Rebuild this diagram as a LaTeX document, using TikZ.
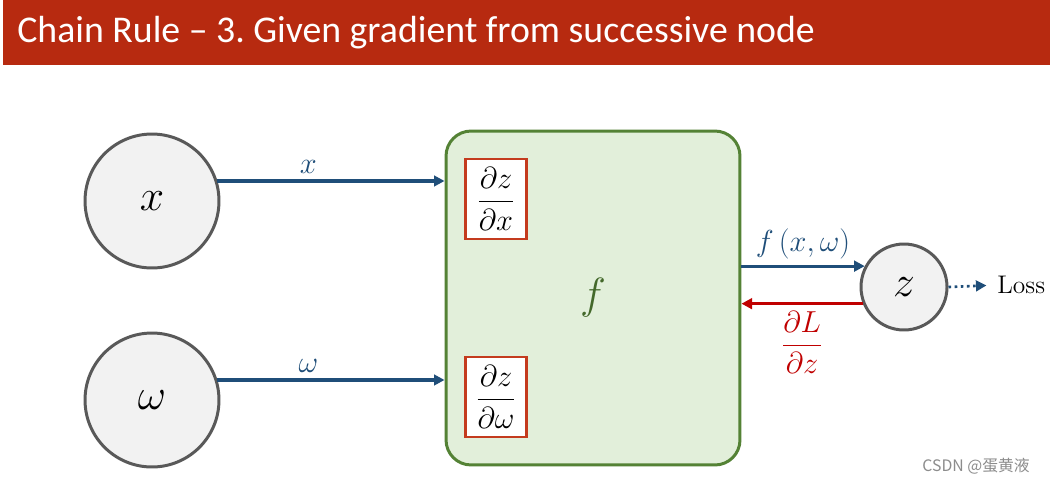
\documentclass[tikz,border=0pt]{standalone}
\usepackage{fontspec}
\usepackage{amsmath,amssymb}
\usepackage{xcolor}
\setsansfont{Carlito}
\newfontfamily\cjkfont{Noto Sans CJK SC}
\usetikzlibrary{arrows.meta, positioning}

\definecolor{titlered}{HTML}{B72A10}
\definecolor{arrowblue}{HTML}{1F4E79}
\definecolor{gradred}{HTML}{C00000}
\definecolor{boxgreen}{HTML}{548235}
\definecolor{boxfill}{HTML}{E2EFDA}
\definecolor{nodegrey}{HTML}{595959}
\definecolor{nodefill}{HTML}{F2F2F2}
\definecolor{partred}{HTML}{C43B1E}

\begin{document}
\begin{tikzpicture}[x=0.02cm, y=-0.02cm]
\tikzstyle{var}=[circle, draw=nodegrey, fill=nodefill, line width=1.7pt,
  minimum size=2.68cm, inner sep=0pt, font=\fontsize{30}{32}\selectfont]
\tikzstyle{func}=[rectangle, draw=boxgreen, fill=boxfill, line width=1.7pt,
  rounded corners=0.5cm, minimum width=5.88cm, minimum height=6.68cm,
  text=boxgreen!80!black, font=\fontsize{32}{34}\selectfont]
\tikzstyle{partial}=[rectangle, draw=partred, fill=white, line width=1.2pt,
  minimum width=1.22cm, minimum height=1.6cm, inner sep=0pt,
  font=\fontsize{17}{19}\selectfont]
\tikzstyle{fwd}=[-{Triangle[length=6pt,width=6pt]}, line width=1.8pt, draw=arrowblue]
\tikzstyle{bwd}=[-{Triangle[length=6pt,width=6pt]}, line width=1.8pt, draw=gradred]
\tikzstyle{lbl}=[font=\fontsize{16}{18}\selectfont, text=arrowblue]

\useasboundingbox (0,0) rectangle (1050,484);
\fill[white] (0,0) rectangle (1050,484);
\fill[titlered] (3,0) rectangle (1050,65);
\node (title) [anchor=west, text=white, inner sep=0pt,
  font=\sffamily\fontsize{21.5}{24}\selectfont] at (17,33)
  {Chain Rule – 3.\ Given gradient from successive node};

\node (x) [var] at (152,201) {$x$};
\node (w) [var] at (152,400) {$\omega$};
\node (f) [func] at (593,298) {$f$};
\node (dzdx) [partial] at (496,199) {$\dfrac{\partial z}{\partial x}$};
\node (dzdw) [partial] at (496,397) {$\dfrac{\partial z}{\partial \omega}$};
\node (z) [var, minimum size=1.72cm, font=\fontsize{26}{28}\selectfont] at (904,287) {$z$};
\node (loss) [anchor=west, inner sep=0pt, font=\fontsize{14.5}{16}\selectfont] at (997,285) {Loss};

\draw [fwd] (x.17) -- (x.17 -| f.west)
  node [lbl, above, pos=0.4] {$x$};
\draw [fwd] (w.17) -- (w.17 -| f.west)
  node [lbl, above, pos=0.4] {$\omega$};
\draw [fwd] (z.152 -| f.east) -- (z.152)
  node [lbl, above, midway] {$f\,(x,\omega)$};
\draw [bwd] (z.202) -- (z.202 -| f.east)
  node [below, midway, text=gradred, font=\fontsize{17}{19}\selectfont]
  {$\dfrac{\partial L}{\partial z}$};
\draw [fwd, line width=1.5pt, dotted, shorten >=6pt] (z.east) -- (loss.west);

\node (mark) [anchor=east, text=black!45, font=\cjkfont\fontsize{9}{11}\selectfont]
  at (1036,466) {CSDN @蛋黄液};
\end{tikzpicture}
\end{document}
